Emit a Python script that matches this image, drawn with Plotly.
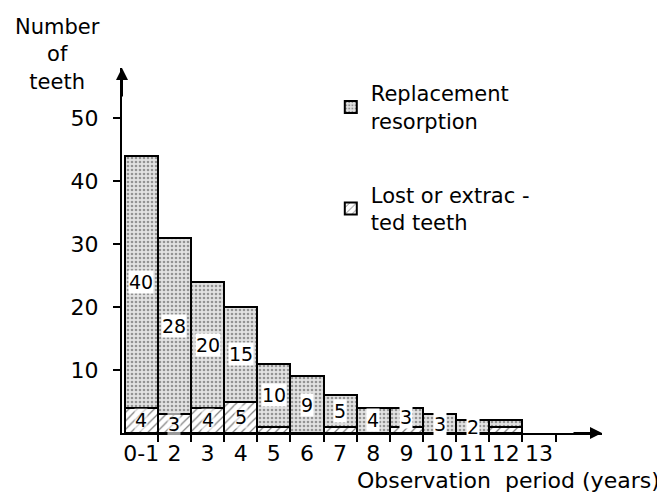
import plotly.graph_objects as go

# ---- data ----
years = ["0-1", "2", "3", "4", "5", "6", "7", "8", "9", "10", "11", "12"]
extra_tick = "13"
resorption = [40, 28, 20, 15, 10, 9, 5, 4, 3, 3, 2, 1]
lost = [4, 3, 4, 5, 1, 0, 1, 0, 1, 0, 0, 1]
res_labels = ["40", "28", "20", "15", "10", "9", "5", "4", "3", "3", "2", ""]
lost_labels = ["4", "3", "4", "5", "", "", "", "", "", "", "", ""]
y_ticks = [10, 20, 30, 40, 50]

FONT = "DejaVu Sans"
xpos = list(range(1, len(years) + 1))

fig = go.Figure()
fig.add_trace(go.Bar(
    x=xpos, y=lost, width=1, name="Lost or extrac -<br>ted teeth",
    legendgroup="lost", legendrank=2,
    marker=dict(color="white", line=dict(color="black", width=2),
                pattern=dict(shape="/", fgcolor="black", bgcolor="white",
                             size=6, solidity=0.2)),
))
fig.add_trace(go.Bar(
    x=xpos, y=resorption, width=1, name="Replacement<br>resorption",
    legendgroup="res", legendrank=1,
    marker=dict(color="white", line=dict(color="black", width=2),
                pattern=dict(shape=".", fgcolor="#444", bgcolor="#e2e2e2",
                             size=4, solidity=0.35)),
))

annotations = []
for x, l, r, rl, ll in zip(xpos, lost, resorption, res_labels, lost_labels):
    if rl:
        annotations.append(dict(x=x, y=l + r / 2, xref="x", yref="y", text=rl,
                                showarrow=False, bgcolor="white",
                                font=dict(family=FONT, size=19, color="black"),
                                borderpad=0))
    if ll:
        annotations.append(dict(x=x, y=l / 2, xref="x", yref="y", text=ll,
                                showarrow=False, bgcolor="rgba(255,255,255,0.6)",
                                font=dict(family=FONT, size=19, color="black"),
                                borderpad=0))

# axis titles and arrows
annotations += [
    dict(x=-0.135, y=1.150, xref="paper", yref="paper", text="Number<br>of<br>teeth",
         showarrow=False, xanchor="center", yanchor="top", align="center",
         font=dict(family=FONT, size=21, color="black")),
    dict(x=1.125, y=-0.1315, xref="paper", yref="paper", text="Observation  period (years)",
         showarrow=False, xanchor="right", yanchor="middle",
         font=dict(family=FONT, size=22, color="black")),
    dict(x=0, y=1, xref="paper", yref="paper", ax=0, ay=30, text="",
         showarrow=True, arrowhead=2, arrowsize=1.2, arrowwidth=2, arrowcolor="black"),
    dict(x=1, y=0, xref="paper", yref="paper", ax=-30, ay=0, text="",
         showarrow=True, arrowhead=2, arrowsize=1.2, arrowwidth=2, arrowcolor="black"),
]

tick_positions = xpos + [len(years) + 1]
tick_text = years + [extra_tick]
edge_ticks = [p + 0.5 for p in tick_positions]

# the page body adds an 8px offset, so the figure is 8px smaller
fig.update_layout(
    width=657, height=490,
    margin=dict(l=114, r=63, t=60, b=65),
    paper_bgcolor="white", plot_bgcolor="white",
    barmode="stack", bargap=0,
    font=dict(family=FONT, color="black"),
    xaxis=dict(range=[0.42, 14.9], showgrid=False, zeroline=False,
               showline=True, linecolor="black", linewidth=2,
               tickmode="array", tickvals=tick_positions, ticktext=tick_text,
               ticks="", tickfont=dict(family=FONT, size=22),
               minor=dict(tickmode="array", tickvals=edge_ticks, ticks="outside",
                          ticklen=7, tickwidth=2, tickcolor="black", showgrid=False)),
    yaxis=dict(range=[0, 58], showgrid=False, zeroline=False,
               showline=True, linecolor="black", linewidth=2,
               tickmode="array", tickvals=y_ticks, ticks="outside",
               ticklen=7, tickwidth=2, tickcolor="black", ticklabelstandoff=10,
               tickfont=dict(family=FONT, size=22)),
    legend=dict(x=0.435, y=0.986, xanchor="left", yanchor="top",
                traceorder="grouped", tracegroupgap=44,
                font=dict(family=FONT, size=21, color="black"),
                bgcolor="rgba(0,0,0,0)"),
    annotations=annotations,
)

fig.write_html("out.html")
